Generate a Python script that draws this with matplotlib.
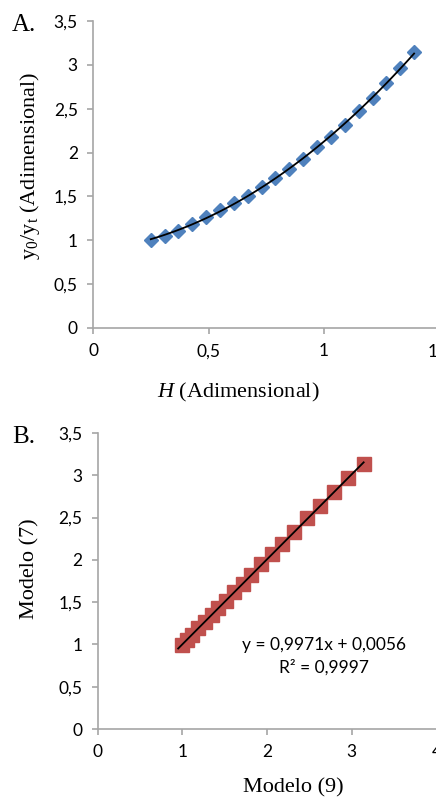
import matplotlib.pyplot as plt
import numpy as np

# Datos
H = [0.25, 0.31, 0.37, 0.43, 0.49, 0.55, 0.61, 0.67, 0.73, 0.79,
     0.85, 0.91, 0.97, 1.03, 1.09, 1.15, 1.21, 1.27, 1.33, 1.39]
y0_yt = [1.00, 1.05, 1.11, 1.19, 1.27, 1.35, 1.42, 1.51, 1.61, 1.71,
         1.81, 1.93, 2.06, 2.18, 2.32, 2.47, 2.62, 2.79, 2.96, 3.15]

modelo9 = [1.00, 1.05, 1.11, 1.19, 1.27, 1.35, 1.42, 1.51, 1.61, 1.71,
           1.81, 1.93, 2.06, 2.18, 2.32, 2.47, 2.62, 2.79, 2.96, 3.14]
modelo7 = [0.99, 1.05, 1.11, 1.19, 1.27, 1.35, 1.43, 1.51, 1.62, 1.72,
           1.82, 1.95, 2.07, 2.19, 2.33, 2.49, 2.64, 2.80, 2.97, 3.13]

x_ticks_a = [0, 0.5, 1, 1.5]
x_labels_a = ['0', '0,5', '1', '1,5']
y_ticks = [0, 0.5, 1, 1.5, 2, 2.5, 3, 3.5]
y_labels = ['0', '0,5', '1', '1,5', '2', '2,5', '3', '3,5']
x_ticks_b = [0, 1, 2, 3, 4]
x_labels_b = ['0', '1', '2', '3', '4']

plt.rcParams['mathtext.fontset'] = 'custom'
plt.rcParams['mathtext.rm'] = 'Liberation Serif'
plt.rcParams['mathtext.it'] = 'Liberation Serif:italic'

W, Ht = 436, 801
fig = plt.figure(figsize=(W / 100, Ht / 100), dpi=100)

tick_font = 'Lato'
serif = 'Liberation Serif'
gris = '#a6a6a6'


def estilo(ax):
    for s in ['top', 'right']:
        ax.spines[s].set_visible(False)
    for s in ['left', 'bottom']:
        ax.spines[s].set_color(gris)
        ax.spines[s].set_linewidth(1.2)
    ax.tick_params(direction='out', length=4, width=1.2, color=gris,
                   labelsize=12.5, pad=7)
    for lab in ax.get_xticklabels() + ax.get_yticklabels():
        lab.set_fontfamily(tick_font)


# A.
ax1 = fig.add_axes([93 / W, (Ht - 328) / Ht, 346.5 / W, 307 / Ht])
ax1.set_xlim(0, 1.5)
ax1.set_ylim(0, 3.5)
ax1.set_xticks(x_ticks_a, x_labels_a)
ax1.set_yticks(y_ticks, y_labels)
estilo(ax1)
ax1.plot(H, y0_yt, 'D', color='#4f81bd', ms=7.5, mec='#4f81bd', zorder=2)
c = np.polyfit(H, y0_yt, 2)
xx = np.linspace(min(H), max(H), 100)
ax1.plot(xx, np.polyval(c, xx), color='black', lw=1.3, zorder=3)

# B.
ax2 = fig.add_axes([97.7 / W, (Ht - 729) / Ht, 338.8 / W, 296 / Ht])
ax2.set_xlim(0, 4)
ax2.set_ylim(0, 3.5)
ax2.set_xticks(x_ticks_b, x_labels_b)
ax2.set_yticks(y_ticks, y_labels)
estilo(ax2)
ax2.plot(modelo9, modelo7, 's', color='#c0504d', ms=10.5, mec='#c0504d', zorder=2)
m, b = np.polyfit(modelo9, modelo7, 1)
xl = np.array([0.95, max(modelo9)])
ax2.plot(xl, m * xl + b, color='black', lw=1.3, zorder=3)

fig.text(324 / W, 1 - 656 / Ht, 'y = 0,9971x + 0,0056\nR² = 0,9997', ha='center',
         va='center', multialignment='center', fontsize=12.5, family=tick_font,
         linespacing=1.45)

# Etiquetas
fig.text(12 / W, 1 - 25 / Ht, 'A.', fontsize=18, family=serif, va='center')
fig.text(12 / W, 1 - 437 / Ht, 'B.', fontsize=18, family=serif, va='center')
fig.text(238 / W, 1 - 392 / Ht, r'$\mathit{H}$ (Adimensional)', fontsize=16,
         family=serif, ha='center', va='center')
fig.text(293 / W, 1 - 788 / Ht, 'Modelo (9)', fontsize=16, family=serif,
         ha='center', va='center')
fig.text(30 / W, 1 - 166 / Ht, r'y$_\mathrm{0}$/y$_\mathrm{t}$ (Adimensional)',
         fontsize=16, family=serif, rotation=90, ha='center', va='center')
fig.text(30 / W, 1 - 569 / Ht, 'Modelo (7)', fontsize=16, family=serif,
         rotation=90, ha='center', va='center')

fig.savefig('out.png', dpi=100)
